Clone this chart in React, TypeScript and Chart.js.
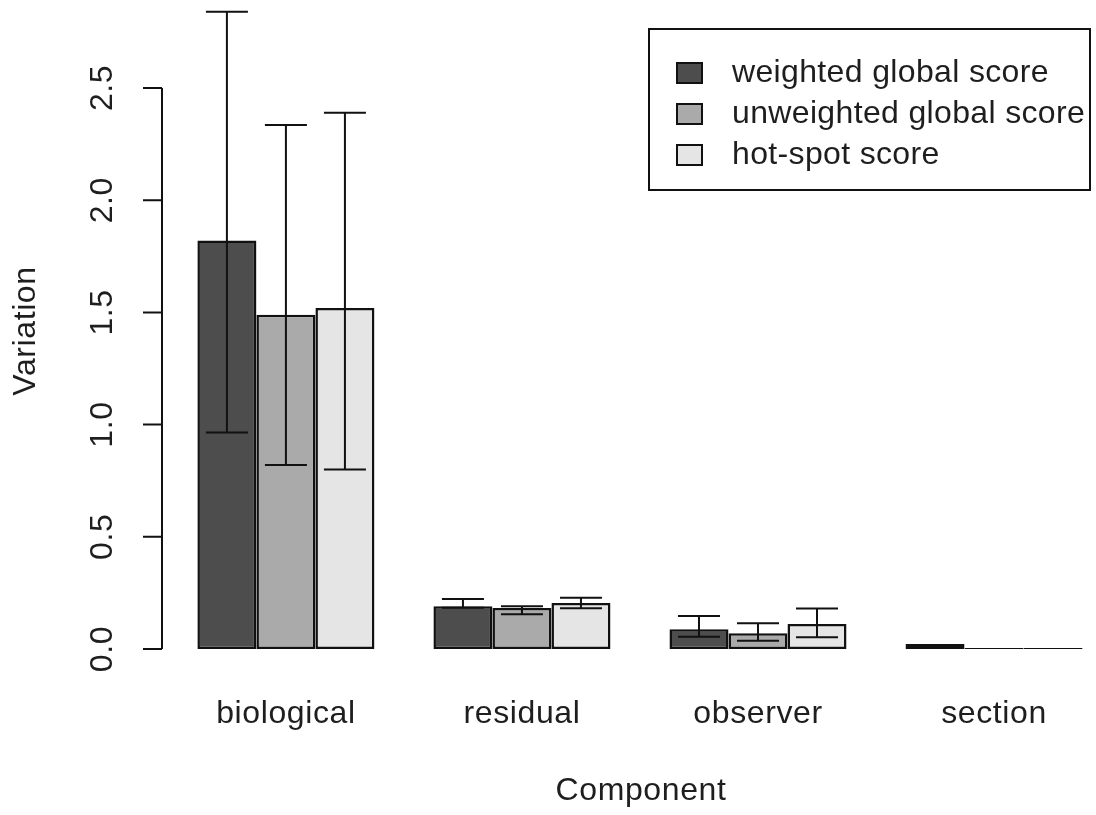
import React, { useEffect, useRef } from 'react';
import { Chart, registerables } from 'chart.js';

Chart.register(...registerables);

// ---- data ----
const categories = ['biological', 'residual', 'observer', 'section'];
const seriesLabels = ['weighted global score', 'unweighted global score', 'hot-spot score'];
const xTitle = 'Component';
const yTitle = 'Variation';

const weighted = [1.82, 0.19, 0.088, 0.022];
const weightedLow = [0.965, 0.184, 0.055, 0.022];
const weightedHigh = [2.84, 0.223, 0.147, 0.022];

const unweighted = [1.49, 0.183, 0.07, 0.005];
const unweightedLow = [0.82, 0.155, 0.037, 0.005];
const unweightedHigh = [2.335, 0.19, 0.115, 0.005];

const hotspot = [1.52, 0.205, 0.111, 0.005];
const hotspotLow = [0.8, 0.182, 0.052, 0.005];
const hotspotHigh = [2.39, 0.228, 0.181, 0.005];

const yTicks = [0, 0.5, 1, 1.5, 2, 2.5];
const yTickLabels = ['0.0', '0.5', '1.0', '1.5', '2.0', '2.5'];

const barColors = ['#4d4d4d', '#aaaaaa', '#e5e5e5'];
const FONT = '"Liberation Sans", Arial, sans-serif';
const TEXT = '#1e1e1e';
const FS = 32;

const seriesValues = [weighted, unweighted, hotspot];
const seriesLow = [weightedLow, unweightedLow, hotspotLow];
const seriesHigh = [weightedHigh, unweightedHigh, hotspotHigh];

const spacingPlugin = {
  id: 'letterSpacing',
  beforeDraw(chart: any) {
    (chart.ctx as any).letterSpacing = '0.6px';
  },
};

const errorBarPlugin = {
  id: 'errorBars',
  afterDatasetsDraw(chart: any) {
    const ctx = chart.ctx;
    const y = chart.scales.y;
    ctx.save();
    ctx.strokeStyle = '#111';
    ctx.lineWidth = 2;
    seriesValues.forEach((_, d) => {
      const meta = chart.getDatasetMeta(d);
      meta.data.forEach((bar: any, i: number) => {
        const lo = seriesLow[d][i];
        const hi = seriesHigh[d][i];
        if (hi - lo < 1e-6) return;
        const x = bar.x;
        const yLo = y.getPixelForValue(lo);
        const yHi = y.getPixelForValue(hi);
        const cap = 21;
        ctx.beginPath();
        ctx.moveTo(x, yLo);
        ctx.lineTo(x, yHi);
        ctx.moveTo(x - cap, yLo);
        ctx.lineTo(x + cap, yLo);
        ctx.moveTo(x - cap, yHi);
        ctx.lineTo(x + cap, yHi);
        ctx.stroke();
      });
    });
    ctx.restore();
  },
};

const axisPlugin = {
  id: 'rAxis',
  afterDraw(chart: any) {
    const ctx = chart.ctx;
    const y = chart.scales.y;
    const area = chart.chartArea;
    const left = area.left;
    ctx.save();
    ctx.strokeStyle = '#111';
    ctx.lineWidth = 2;
    ctx.beginPath();
    ctx.moveTo(left, y.getPixelForValue(yTicks[0]));
    ctx.lineTo(left, y.getPixelForValue(yTicks[yTicks.length - 1]));
    yTicks.forEach((v) => {
      const py = y.getPixelForValue(v);
      ctx.moveTo(left, py);
      ctx.lineTo(left - 19, py);
    });
    ctx.stroke();
    ctx.fillStyle = TEXT;
    ctx.font = `${FS}px ${FONT}`;
    ctx.textAlign = 'center';
    ctx.textBaseline = 'middle';
    yTicks.forEach((v, i) => {
      const py = y.getPixelForValue(v);
      ctx.save();
      ctx.translate(left - 59, py);
      ctx.rotate(-Math.PI / 2);
      ctx.fillText(yTickLabels[i], 0, 0);
      ctx.restore();
    });
    // axis titles (R centres them on the full plot region)
    ctx.fillText(xTitle, 641, 791);
    ctx.save();
    ctx.translate(26, 331);
    ctx.rotate(-Math.PI / 2);
    ctx.fillText(yTitle, 0, 0);
    ctx.restore();
    ctx.restore();
  },
};

const legendPlugin = {
  id: 'boxLegend',
  afterDraw(chart: any) {
    const ctx = chart.ctx;
    ctx.save();
    (ctx as any).letterSpacing = '0.35px';
    ctx.strokeStyle = '#111';
    ctx.lineWidth = 2;
    ctx.strokeRect(649, 29, 441, 161);
    const rows = [73, 114, 155];
    ctx.font = `${FS}px ${FONT}`;
    ctx.textAlign = 'left';
    ctx.textBaseline = 'middle';
    seriesLabels.forEach((lab, i) => {
      ctx.fillStyle = barColors[i];
      ctx.fillRect(677, rows[i] - 10, 25, 20);
      ctx.strokeRect(677, rows[i] - 10, 25, 20);
      ctx.fillStyle = TEXT;
      ctx.fillText(lab, 732, rows[i]);
    });
    ctx.restore();
  },
};

export default function App() {
  const ref = useRef<HTMLCanvasElement>(null);
  useEffect(() => {
    document.body.style.margin = '0';
    const canvas = ref.current!;
    const chart = new Chart(canvas, {
      type: 'bar',
      data: {
        datasets: seriesValues.map((vals, d) => ({
          label: seriesLabels[d],
          data: vals.map((v, i) => ({ x: i, y: v })),
          backgroundColor: barColors[d],
          borderColor: '#111',
          borderWidth: 2.5,
          borderSkipped: false,
          categoryPercentage: 0.75,
          barPercentage: 1,
          clip: false as any,
        })),
      },
      options: {
        animation: false,
        responsive: false,
        devicePixelRatio: 1,
        layout: { padding: 0 },
        plugins: { legend: { display: false }, tooltip: { enabled: false } },
        scales: {
          x: {
            type: 'linear',
            min: -0.525,
            max: 3.432,
            offset: false,
            grid: { display: false },
            border: { display: false },
            afterBuildTicks: (s: any) => {
              s.ticks = categories.map((_, i) => ({ value: i }));
            },
            afterFit: (s: any) => {
              s.height = 166;
            },
            ticks: {
              autoSkip: false,
              maxRotation: 0,
              padding: 38,
              color: TEXT,
              font: { family: FONT, size: FS },
              callback: (v: any) => categories[Math.round(Number(v))],
            },
            title: { display: false },
          },
          y: {
            type: 'linear',
            min: 0,
            max: 2.892,
            grid: { display: false },
            border: { display: false },
            ticks: { display: false },
            afterBuildTicks: (s: any) => {
              s.ticks = yTicks.map((v) => ({ value: v }));
            },
            afterFit: (s: any) => {
              s.width = 162;
            },
            title: { display: false },
          },
        },
      },
      plugins: [spacingPlugin, errorBarPlugin, axisPlugin, legendPlugin],
    } as any);
    return () => chart.destroy();
  }, []);
  return <canvas ref={ref} width={1096} height={815} style={{ display: 'block' }} />;
}
